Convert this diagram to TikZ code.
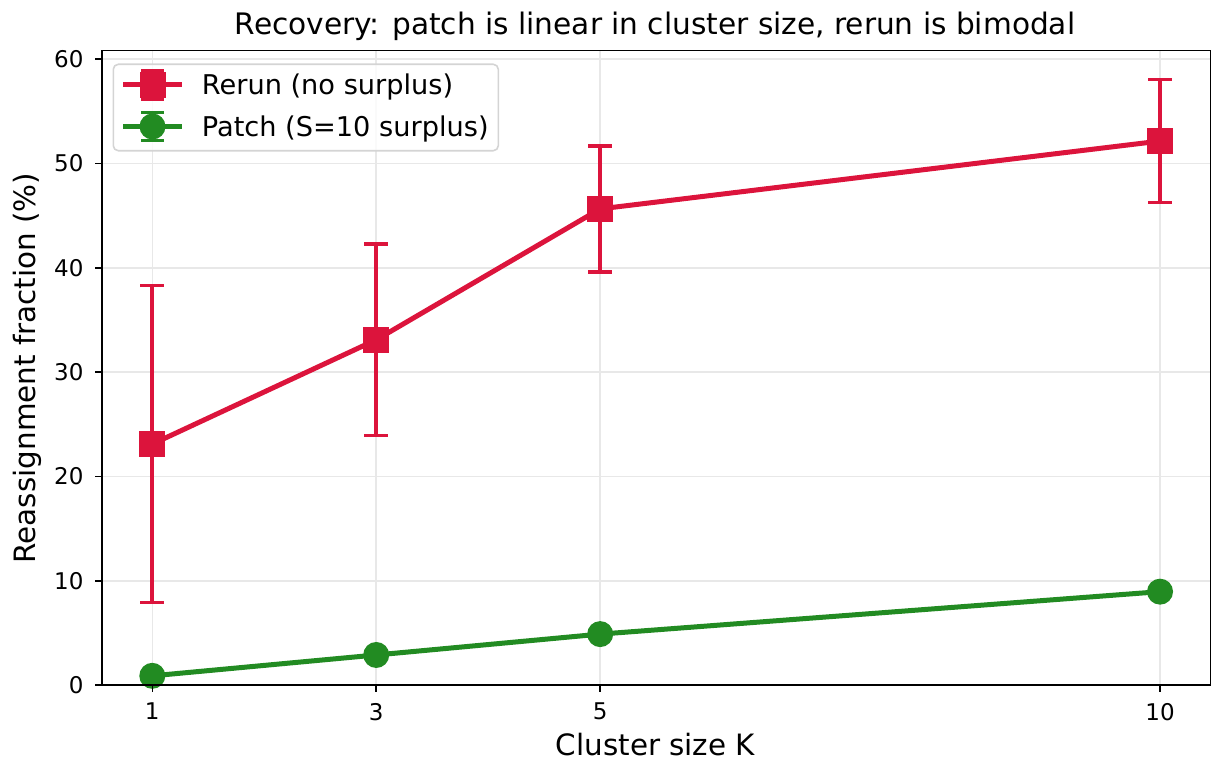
\documentclass[tikz,border=0pt]{standalone}
\usepackage{fontspec}
\setmainfont{DejaVu Sans}
\definecolor{rerun}{HTML}{DC143C}
\definecolor{patch}{HTML}{228B22}
\definecolor{gridc}{HTML}{E8E8E8}
\definecolor{legedge}{HTML}{D4D4D4}
\begin{document}
\begin{tikzpicture}[x=1pt,y=-1pt,
  gridline/.style={gridc, line width=1.6pt},
  spine/.style={black, line width=1.6pt},
  tickmark/.style={black, line width=1.6pt},
  ticklab/.style={inner sep=0pt, font=\fontsize{23}{27}\selectfont},
  biglab/.style={inner sep=0pt, font=\fontsize{27.2}{32}\selectfont},
  titlelab/.style={inner sep=0pt, font=\fontsize{29.6}{35}\selectfont},
  axlab/.style={inner sep=0pt, font=\fontsize{29.4}{34}\selectfont},
  rline/.style={rerun, line width=5pt, line join=round},
  pline/.style={patch, line width=5pt, line join=round},
  rbar/.style={rerun, line width=4pt},
  rcap/.style={rerun, line width=3.5pt},
  pbar/.style={patch, line width=4pt},
  pcap/.style={patch, line width=3.5pt},
  rsq/.style={rectangle, fill=rerun, minimum size=26pt, inner sep=0pt},
  pdot/.style={circle, fill=patch, minimum size=26pt, inner sep=0pt},
  legbox/.style={draw=legedge, line width=1.6pt, fill=white, fill opacity=0.8, rounded corners=5pt}
]
\useasboundingbox (0,0) rectangle (1214,765);
% grid
\foreach \v in {10,20,...,60}
  \draw[gridline] (101.9,{685-10.43*\v}) -- (1210.4,{685-10.43*\v});
\foreach \k in {1,3,5,10}
  \draw[gridline] ({40.33+111.97*\k},50.7) -- ({40.33+111.97*\k},685);
% data
\begin{scope}[shift={(40.33,685)},x=111.97pt,y=10.43pt]
  \foreach \k/\m/\e/\n in {1/23.1/15.2/a, 3/33.1/9.2/b, 5/45.65/6.05/c, 10/52.15/5.9/d}{
    \coordinate (r\n) at (\k,\m);
    \coordinate (rt\n) at (\k,{\m+\e});
    \coordinate (rb\n) at (\k,{\m-\e});
    \draw[rbar] (rb\n) -- (rt\n);
    \draw[rcap] ([xshift=-12pt]rt\n) -- ([xshift=12pt]rt\n);
    \draw[rcap] ([xshift=-12pt]rb\n) -- ([xshift=12pt]rb\n);
  }
  \coordinate (pa) at (1,0.88);
  \coordinate (pb) at (3,2.88);
  \coordinate (pc) at (5,4.88);
  \coordinate (pd) at (10,8.95);
  \draw[rline] (ra) -- (rb) -- (rc) -- (rd);
  \draw[pline] (pa) -- (pb) -- (pc) -- (pd);
  \foreach \n in {a,b,c,d}{
    \node[rsq] (mr\n) at (r\n) {};
    \node[pdot] (mp\n) at (p\n) {};
  }
\end{scope}
% spines
\draw[spine] (101.9,50.7) rectangle (1210.4,685);
% y ticks
\foreach \v in {0,10,...,60}{
  \draw[tickmark] (101.9,{685-10.43*\v}) -- (94.6,{685-10.43*\v});
  \node[ticklab, anchor=east] (yt\v) at (83.6,{685-10.43*\v}) {\v};
}
% x ticks
\foreach \k in {1,3,5,10}{
  \draw[tickmark] ({40.33+111.97*\k},685) -- ({40.33+111.97*\k},692.3);
  \node[ticklab, anchor=north] (xt\k) at ({40.33+111.97*\k},703) {\k};
}
% legend
\draw[legbox] (113.3,64.3) rectangle (498.3,150.7);
\coordinate (l1a) at (123,85);
\coordinate (l1b) at (182,85);
\coordinate (l1c) at (152.5,85);
\coordinate (l1t) at (152.5,71);
\coordinate (l1u) at (152.5,99);
\draw[rbar] (l1t) -- (l1u);
\draw[rcap] ([xshift=-11.5pt]l1t) -- ([xshift=11.5pt]l1t);
\draw[rcap] ([xshift=-11.5pt]l1u) -- ([xshift=11.5pt]l1u);
\draw[rline] (l1a) -- (l1b);
\node[rsq] (lm1) at (l1c) {};
\node[biglab, anchor=base west] (lt1) at (201.7,95) {Rerun (no surplus)};
\coordinate (l2a) at (123,126.5);
\coordinate (l2b) at (182,126.5);
\coordinate (l2c) at (152.5,126.5);
\coordinate (l2t) at (152.5,112.5);
\coordinate (l2u) at (152.5,140.5);
\draw[pbar] (l2t) -- (l2u);
\draw[pcap] ([xshift=-11.5pt]l2t) -- ([xshift=11.5pt]l2t);
\draw[pcap] ([xshift=-11.5pt]l2u) -- ([xshift=11.5pt]l2u);
\draw[pline] (l2a) -- (l2b);
\node[pdot] (lm2) at (l2c) {};
\node[biglab, anchor=base west] (lt2) at (201.7,136) {Patch (S=10 surplus)};
% titles
\node[titlelab, anchor=base] (title) at (655,35) {Recovery: patch is linear in cluster size, rerun is bimodal};
\node[axlab, anchor=base] (xlab) at (655.5,755) {Cluster size K};
\node[axlab, anchor=base, rotate=90] (ylab) at (35,368) {Reassignment fraction (\%)};
\end{tikzpicture}
\end{document}
